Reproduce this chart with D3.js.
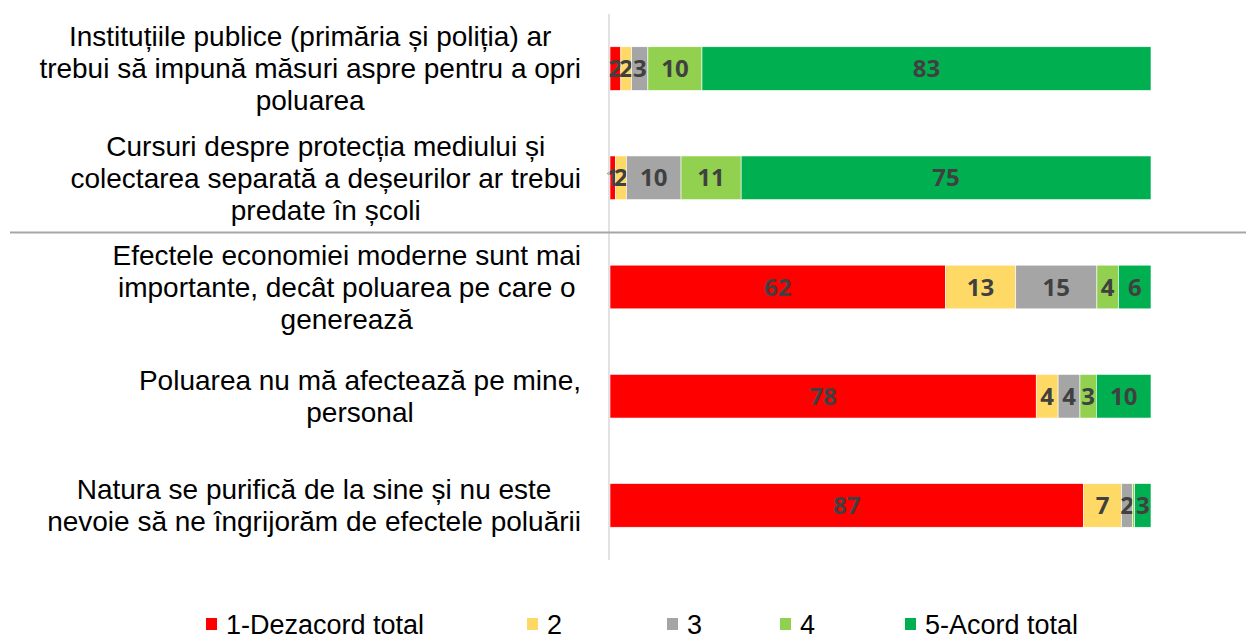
<!DOCTYPE html>
<html lang="ro">
<head>
<meta charset="UTF-8">
<title>Chart</title>
<script src="https://cdn.jsdelivr.net/npm/d3@7"></script>
<style>
  body { margin: 0; background: #fff; }
  svg { display: block; }
</style>
</head>
<body>
<svg id="chart" width="1246" height="634"></svg>
<script>
// categories (each entry = wrapped lines of the label)
const categories = [
  ["Instituțiile publice (primăria și poliția) ar", "trebui să impună măsuri aspre pentru a opri", "poluarea"],
  ["Cursuri despre protecția mediului și", "colectarea separată a deșeurilor ar trebui", "predate în școli"],
  ["Efectele economiei moderne sunt mai", "importante, decât poluarea pe care o", "generează"],
  ["Poluarea nu mă afectează pe mine,", "personal"],
  ["Natura se purifică de la sine și nu este", "nevoie să ne îngrijorăm de efectele poluării"]
];
const seriesNames = ["1-Dezacord total", "2", "3", "4", "5-Acord total"];
const seriesColors = ["#ff0000", "#ffd966", "#a5a5a5", "#92d050", "#00b050"];

// percentages per series, one value per category
const s1 = [2, 1, 62, 78, 87];
const s2 = [2, 2, 13, 4, 7];
const s3 = [3, 10, 15, 4, 2];
const s4 = [10, 11, 4, 3, 0.4];
const s5 = [83, 75, 6, 10, 3];

const series = [s1, s2, s3, s4, s5];

const rows = categories.map((c, i) => {
  const r = { id: i };
  seriesNames.forEach((n, k) => { r[n] = series[k][i]; });
  return r;
});

const svg = d3.select("#chart");

// plot area
const plotLeft = 610, plotRight = 1151, plotTop = 14, plotBottom = 560;

const x = d3.scaleLinear().domain([0, 1]).range([plotLeft, plotRight]);
const y = d3.scaleBand().domain(d3.range(categories.length)).range([plotTop, plotBottom]).paddingInner(0.6).paddingOuter(0.3);

const stacked = d3.stack().keys(seriesNames).offset(d3.stackOffsetExpand)(rows);

// bars
const layers = svg.append("g")
  .selectAll("g")
  .data(stacked)
  .join("g")
  .attr("fill", (d, i) => seriesColors[i]);

layers.selectAll("rect")
  .data(d => d)
  .join("rect")
  .attr("x", d => x(d[0]))
  .attr("y", d => y(d.data.id))
  .attr("width", d => x(d[1]) - x(d[0]))
  .attr("height", y.bandwidth())
  .attr("stroke", "#ffffff")
  .attr("stroke-width", 0.6);

// data labels
layers.each(function (layer) {
  d3.select(this).selectAll("text")
    .data(layer.filter(d => Math.round(d.data[layer.key]) > 0))
    .join("text")
    .attr("x", d => (x(d[0]) + x(d[1])) / 2)
    .attr("y", d => y(d.data.id) + y.bandwidth() / 2)
    .attr("dy", "0.36em")
    .attr("text-anchor", "middle")
    .attr("font-family", "'Open Sans', sans-serif")
    .attr("font-weight", 700)
    .attr("font-size", 24)
    .attr("fill", "#404040")
    .text(d => Math.round(d.data[layer.key]));
});

// vertical axis line
svg.append("line")
  .attr("x1", plotLeft - 1).attr("x2", plotLeft - 1)
  .attr("y1", plotTop).attr("y2", plotBottom)
  .attr("stroke", "#d9d9d9").attr("stroke-width", 1.5);

// separator between groups
const sepY = (y(1) + y.bandwidth() + y(2)) / 2;
svg.append("line")
  .attr("x1", 10).attr("x2", 1246)
  .attr("y1", sepY).attr("y2", sepY)
  .attr("stroke", "#a6a6a6").attr("stroke-width", 2);

// category labels: block right-aligned, lines centered within block
const labelRight = 581;
const lineH = 32;
const labelG = svg.append("g")
  .attr("font-family", "'Liberation Sans', Arial, sans-serif")
  .attr("font-size", 28)
  .attr("fill", "#000");

categories.forEach((lines, i) => {
  const g = labelG.append("g");
  const texts = g.selectAll("text")
    .data(lines)
    .join("text")
    .attr("text-anchor", "middle")
    .attr("dy", "0.35em")
    .text(d => d);
  let maxW = 0;
  texts.each(function () { maxW = Math.max(maxW, this.getComputedTextLength()); });
  const cy = y(i) + y.bandwidth() / 2;
  texts
    .attr("x", labelRight - maxW / 2)
    .attr("y", (d, j) => cy + (j - (lines.length - 1) / 2) * lineH);
});

// legend
const legendX = [206, 527, 667, 780, 905];
const legend = svg.append("g")
  .selectAll("g")
  .data(seriesNames)
  .join("g")
  .attr("transform", (d, i) => `translate(${legendX[i]},624)`);

legend.append("rect")
  .attr("x", 0).attr("y", -6)
  .attr("width", 11).attr("height", 12)
  .attr("fill", (d, i) => seriesColors[i]);

legend.append("text")
  .attr("x", 20)
  .attr("y", 9.5)
  .attr("font-family", "'Liberation Sans', Arial, sans-serif")
  .attr("font-size", 27)
  .attr("fill", "#000")
  .text(d => d);
</script>
</body>
</html>
